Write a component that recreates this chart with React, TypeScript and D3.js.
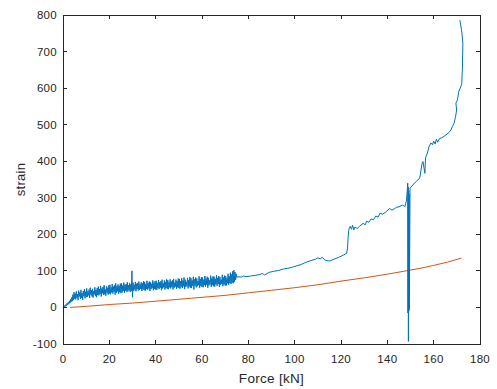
import React from 'react'
import * as d3 from 'd3'

// noisy start of the blue trace, one strain value every 0.25 kN from 0.25 kN
const noisyStart = 0.25
const noisyStep = 0.25
const noisyStrain = [
  2, 1, 5, 3, 8, 4, 11, 7, 14, 9, 18, 12, 22, 15, 27, 17, 35, 20, 42, 24,
  38, 22, 44, 27, 36, 20, 46, 30, 41, 24, 48, 26, 39, 21, 45, 31, 50, 25, 43, 28,
  52, 29, 44, 33, 49, 26, 54, 35, 47, 30, 51, 27, 45, 36, 55, 31, 48, 28, 53, 34,
  57, 33, 50, 37, 59, 30, 52, 39, 56, 34, 61, 36, 49, 32, 58, 40, 54, 35, 60, 38,
  62, 36, 55, 41, 64, 38, 57, 43, 61, 35, 66, 40, 58, 44, 63, 37, 59, 42, 65, 39,
  66, 41, 60, 45, 68, 40, 62, 46, 64, 43, 69, 44, 61, 47, 67, 42, 63, 45, 100, 28,
  68, 45, 62, 49, 70, 44, 65, 50, 67, 46, 71, 48, 63, 51, 69, 45, 66, 49, 72, 47,
  70, 46, 64, 51, 73, 48, 67, 52, 71, 45, 69, 50, 65, 53, 74, 47, 68, 51, 72, 49,
  73, 48, 67, 53, 75, 50, 69, 54, 72, 47, 76, 52, 66, 55, 74, 49, 70, 53, 77, 51,
  75, 50, 69, 55, 77, 52, 71, 56, 74, 49, 78, 54, 68, 57, 76, 51, 72, 55, 79, 53,
  78, 51, 72, 57, 80, 53, 74, 58, 82, 50, 76, 56, 70, 59, 81, 52, 75, 57, 83, 54,
  80, 53, 74, 59, 84, 49, 77, 60, 82, 55, 79, 58, 72, 61, 85, 54, 78, 59, 83, 56,
  82, 55, 76, 61, 86, 57, 79, 62, 84, 54, 81, 60, 74, 63, 87, 56, 80, 61, 85, 58,
  84, 57, 78, 63, 88, 59, 81, 64, 86, 56, 83, 62, 76, 65, 89, 58, 82, 63, 87, 60,
  86, 60, 80, 66, 92, 62, 85, 67, 95, 64, 90, 68, 99, 66, 102, 70, 97, 75, 92, 82,
]

// rest of the blue trace [force kN, strain]
const blueTail: [number, number][] = [
  [75.5, 84], [77, 83], [78, 86], [79, 84], [81, 86], [83, 88], [85, 90],
  [86, 93], [87, 89], [89, 96], [91, 99], [93, 101], [95, 105], [97, 107],
  [99, 110], [101, 114], [103, 118], [105, 124], [107, 128], [109, 132],
  [110, 136], [111, 133], [112, 137], [113, 130], [114, 128], [115, 127],
  [117, 132], [119, 137], [121, 143], [122.4, 148], [122.8, 160],
  [123, 185], [123.3, 210], [123.6, 218], [124, 222], [124.5, 214],
  [125, 225], [125.5, 212], [126, 220], [127, 216], [128, 222],
  [129.5, 230], [130.5, 226], [131, 236], [132, 233], [133, 242],
  [134, 240], [135, 250], [136, 247], [136.8, 258], [138, 255], [139.5, 262],
  [141, 271], [142, 266], [143, 270], [144, 274], [145, 275], [146.5, 280],
  [147.6, 276], [148.3, 294], [148.6, 320], [148.8, 340], [148.9, -15],
  [149, 330], [149.1, -93], [149.2, 320], [149.3, -10], [149.4, 310],
  [149.5, -5], [149.8, 326], [151, 335], [152.5, 345], [154, 354],
  [155, 394], [155.4, 399], [156.2, 367], [156.5, 410], [157.3, 422],
  [158, 440], [158.8, 450], [159.5, 445], [160, 455], [160.6, 447],
  [161.2, 460], [161.7, 452], [162.5, 462], [163.5, 464], [165.3, 472],
  [166.5, 478], [167.4, 485], [168.1, 495], [168.8, 504], [169.4, 520],
  [169.9, 540], [169.6, 559], [170.3, 568], [170.8, 590], [172.1, 610],
  [172.3, 640], [172.4, 650], [172.6, 723], [172.2, 750], [172, 760],
  [171.3, 786],
]

// red reference curve [force kN, strain]
const redCurve: [number, number][] = [
  [3, 0], [10, 3], [20, 8], [30, 12], [40, 17], [55, 25], [70, 33],
  [80, 40], [90, 47], [100, 54], [110, 62], [120, 72], [130, 81],
  [140, 91], [148, 100], [155, 108], [160, 115], [166, 124], [172, 135],
]

const xTicks = [0, 20, 40, 60, 80, 100, 120, 140, 160, 180]
const yTicks = [-100, 0, 100, 200, 300, 400, 500, 600, 700, 800]

const W = 497
const H = 389
const margin = { left: 63, right: 17, top: 15, bottom: 45 }
const axisColor = '#262626'
const font = '"Liberation Sans", Arial, sans-serif'

const App = () => {
  const x = d3.scaleLinear().domain([0, 180]).range([margin.left, W - margin.right])
  const y = d3.scaleLinear().domain([-100, 800]).range([H - margin.bottom, margin.top])

  const bluePoints: [number, number][] = [
    [0, 0],
    ...noisyStrain.map((s, i): [number, number] => [noisyStart + i * noisyStep, s]),
    ...blueTail,
  ]

  const line = d3
    .line<[number, number]>()
    .x((d) => x(d[0]))
    .y((d) => y(d[1]))

  const x0 = x(0)
  const x1 = x(180)
  const y0 = y(-100)
  const y1 = y(800)
  const tick = 4

  return (
    <svg
      width={W}
      height={H}
      style={{ position: 'absolute', left: 0, top: 0, background: '#fff' }}
    >
      <path d={line(redCurve) || ''} fill="none" stroke="#D95319" strokeWidth={1} />
      <path d={line(bluePoints) || ''} fill="none" stroke="#0072BD" strokeWidth={1} />

      <g stroke={axisColor} strokeWidth={1} fill="none" shapeRendering="crispEdges">
        <rect x={x0} y={y1} width={x1 - x0} height={y0 - y1} />
        {xTicks.map((t) => (
          <g key={'xt' + t}>
            <line x1={x(t)} x2={x(t)} y1={y0} y2={y0 - tick} />
            <line x1={x(t)} x2={x(t)} y1={y1} y2={y1 + tick} />
          </g>
        ))}
        {yTicks.map((t) => (
          <g key={'yt' + t}>
            <line x1={x0} x2={x0 + tick} y1={y(t)} y2={y(t)} />
            <line x1={x1} x2={x1 - tick} y1={y(t)} y2={y(t)} />
          </g>
        ))}
      </g>

      <g fill={axisColor} fontFamily={font} fontSize={11.5} letterSpacing={0.3}>
        {xTicks.map((t) => (
          <text key={'xl' + t} x={x(t)} y={y0 + 19} textAnchor="middle">
            {t}
          </text>
        ))}
        {yTicks.map((t) => (
          <text key={'yl' + t} x={x0 - 6} y={y(t) + 4} textAnchor="end">
            {t}
          </text>
        ))}
      </g>

      <text
        x={(x0 + x1) / 2}
        y={383}
        textAnchor="middle"
        fontFamily={font}
        fontSize={13.5}
        letterSpacing={0.3}
        fill={axisColor}
      >
        Force [kN]
      </text>
      <text
        transform={`translate(25,${(y0 + y1) / 2}) rotate(-90)`}
        textAnchor="middle"
        fontFamily={font}
        fontSize={13}
        letterSpacing={0.3}
        fill={axisColor}
      >
        strain
      </text>
    </svg>
  )
}

export default App
